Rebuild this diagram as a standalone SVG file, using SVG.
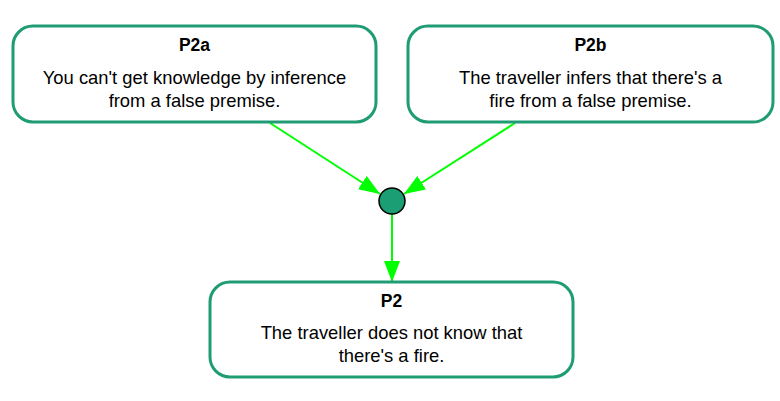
<svg xmlns="http://www.w3.org/2000/svg" width="780" height="401" viewBox="0 0 780 401">
  <style>
    .box { fill: #ffffff; stroke: #1f9c74; stroke-width: 3; }
    .title { font-family: "Liberation Sans", Arial, sans-serif; font-size: 17.5px; font-weight: bold; fill: #000; text-anchor: middle; }
    .body { font-family: "Liberation Sans", Arial, sans-serif; font-size: 18.4px; fill: #000; text-anchor: middle; }
    .edge { stroke: #00ff00; stroke-width: 2; fill: none; }
    .junction { fill: #1b9e74; stroke: #000; stroke-width: 1.5; }
  </style>
  <defs>
    <marker id="arrow" markerWidth="21" markerHeight="16" refX="21" refY="8" orient="auto" markerUnits="userSpaceOnUse">
      <path d="M0,0 L21,8 L0,16 Z" fill="#00ff00"/>
    </marker>
  </defs>

  <g id="connectors">
    <line class="edge" x1="270" y1="123" x2="380" y2="194" marker-end="url(#arrow)"/>
    <line class="edge" x1="515" y1="123" x2="404" y2="194" marker-end="url(#arrow)"/>
    <line class="edge" x1="392" y1="214" x2="392" y2="282" marker-end="url(#arrow)"/>
  </g>

  <g id="junction">
    <circle class="junction" cx="392" cy="201" r="13"/>
  </g>

  <g id="P2a">
    <rect class="box" x="13" y="26" width="363" height="96" rx="20" ry="20"/>
    <text class="title" x="194.5" y="51">P2a</text>
    <text class="body" x="194.5" y="84">You can't get knowledge by inference</text>
    <text class="body" x="194.5" y="107">from a false premise.</text>
  </g>

  <g id="P2b">
    <rect class="box" x="408" y="26" width="365" height="96" rx="20" ry="20"/>
    <text class="title" x="590.5" y="51">P2b</text>
    <text class="body" x="590.5" y="84">The traveller infers that there's a</text>
    <text class="body" x="590.5" y="107">fire from a false premise.</text>
  </g>

  <g id="P2">
    <rect class="box" x="210" y="282" width="363" height="95" rx="20" ry="20"/>
    <text class="title" x="391.5" y="307">P2</text>
    <text class="body" x="391.5" y="339">The traveller does not know that</text>
    <text class="body" x="391.5" y="362">there's a fire.</text>
  </g>
</svg>
